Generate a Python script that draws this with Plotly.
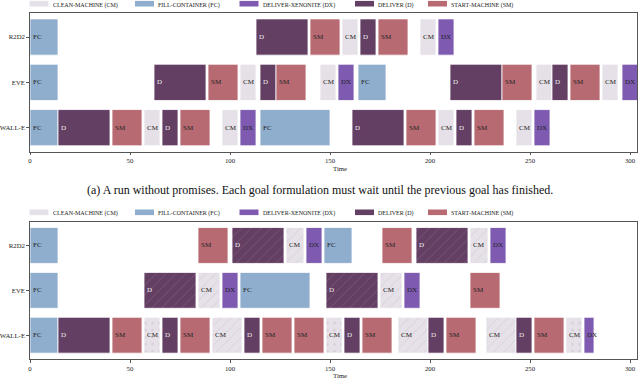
import plotly.graph_objects as go

# task types: abbreviation, legend name
task_abbr = ['CM', 'FC', 'DX', 'D', 'SM']
task_names = ['Clean-Machine (CM)', 'Fill-Container (FC)', 'Deliver-Xenonite (DX)',
              'Deliver (D)', 'Start-Machine (SM)']
robots = ['WALL-E', 'EVE', 'R2D2']

# (a) run without promises
a_robot = (['R2D2'] * 8 + ['EVE'] * 16 + ['WALL-E'] * 16)
a_task = ['FC', 'D', 'SM', 'CM', 'D', 'SM', 'CM', 'DX',
          'FC', 'D', 'SM', 'CM', 'D', 'SM', 'CM', 'DX', 'FC', 'D', 'SM', 'CM', 'D', 'SM', 'CM', 'DX',
          'FC', 'D', 'SM', 'CM', 'D', 'SM', 'CM', 'DX', 'FC', 'D', 'SM', 'CM', 'D', 'SM', 'CM', 'DX']
a_start = [0, 113, 140, 156, 165, 174, 195, 204,
           0, 62, 89, 105, 115, 123, 145, 154, 164, 210, 236, 253, 261, 270, 286, 296,
           0, 14, 41, 57, 66, 75, 96, 105, 115, 161, 188, 204, 213, 222, 243, 252]
a_end = [14, 139, 155, 164, 173, 189, 203, 212,
         14, 88, 104, 113, 123, 138, 153, 162, 178, 236, 251, 261, 269, 285, 294, 304,
         14, 40, 56, 65, 74, 90, 104, 113, 150, 187, 203, 212, 221, 237, 251, 260]
a_mark = [''] * len(a_task)

# (b) run with promises; '/' = promised goal, '.' = dotted
b_robot = (['R2D2'] * 10 + ['EVE'] * 9 + ['WALL-E'] * 21)
b_task = ['FC', 'SM', 'D', 'CM', 'DX', 'FC', 'SM', 'D', 'CM', 'DX',
          'FC', 'D', 'CM', 'DX', 'FC', 'D', 'CM', 'DX', 'SM',
          'FC', 'D', 'SM', 'CM', 'D', 'SM', 'CM', 'D', 'SM', 'SM', 'CM', 'D', 'SM', 'CM', 'D', 'SM',
          'CM', 'D', 'SM', 'CM', 'DX']
b_start = [0, 84, 101, 128, 138, 147, 176, 193, 220, 230,
           0, 57, 84, 96, 105, 148, 175, 187, 220,
           0, 14, 41, 57, 66, 75, 91, 107, 116, 132, 148, 157, 166, 184, 199, 208,
           228, 243, 252, 268, 277]
b_end = [14, 99, 127, 137, 146, 161, 191, 219, 229, 238,
         14, 83, 95, 104, 140, 174, 186, 195, 235,
         14, 40, 56, 65, 74, 90, 106, 115, 131, 147, 156, 165, 181, 199, 207, 223,
         243, 251, 267, 276, 282]
b_mark = ['', '', '/', '/', '', '', '', '/', '/', '',
          '', '/', '/', '', '', '/', '/', '', '',
          '', '', '', '.', '', '', '/', '', '', '', '.', '', '', '/', '', '',
          '/', '', '', '.', '']

caption = '(a) A run without promises. Each goal formulation must wait until the previous goal has finished.'

colors = {'CM': '#e6e1e8', 'FC': '#8fadcc', 'DX': '#7e5bb1', 'D': '#633f63', 'SM': '#b86a72'}
hatch = {'CM': '#c9c0cc', 'FC': '#ffffff', 'DX': '#ffffff', 'D': '#8a6a8a', 'SM': '#ffffff'}
text_col = {'CM': '#222', 'FC': '#222', 'DX': '#222', 'D': '#f0f0f0', 'SM': '#222'}
SERIF = 'Liberation Serif'

W, H = 640.0, 378.0
ML, MR = 30, 3
PW = W - ML - MR

fig = go.Figure()


def add_chart(robot, task, start, end, mark, xa, ya):
    for abbr, name in zip(task_abbr, task_names):
        idx = [i for i, t in enumerate(task) if t == abbr]
        fig.add_trace(go.Bar(
            y=[robot[i] for i in idx],
            x=[end[i] - start[i] for i in idx],
            base=[start[i] for i in idx],
            orientation='h',
            name=name,
            text=[abbr] * len(idx),
            textposition='inside',
            insidetextanchor='start',
            textangle=0,
            textfont=dict(family=SERIF, size=7, color=text_col[abbr]),
            marker=dict(color=colors[abbr],
                        line=dict(color='white', width=0.8),
                        pattern=dict(shape=[mark[i] for i in idx], fillmode='overlay',
                                     fgcolor=hatch[abbr], fgopacity=0.6, size=7, solidity=0.12)),
            width=0.8,
            xaxis=xa, yaxis=ya,
            showlegend=False,
            hoverinfo='skip',
        ))


add_chart(a_robot, a_task, a_start, a_end, a_mark, 'x', 'y')
add_chart(b_robot, b_task, b_start, b_end, b_mark, 'x2', 'y2')

# hand-made legends (wide swatches like the original)
shapes, annots = [], []
swatch_px = [29.5, 135, 239.5, 355, 428]
for leg_y in [3.7, 212.3]:
    for abbr, name, px in zip(task_abbr, task_names, swatch_px):
        shapes.append(dict(type='rect', xref='paper', yref='paper', layer='above',
                           x0=(px - ML) / PW, x1=(px + 19 - ML) / PW,
                           y0=(H - leg_y - 2.8) / H, y1=(H - leg_y + 2.8) / H,
                           fillcolor=colors[abbr], line=dict(width=0)))
        annots.append(dict(text=name, xref='paper', yref='paper',
                           x=(px + 21 - ML) / PW, y=(H - leg_y) / H,
                           xanchor='left', yanchor='middle', showarrow=False,
                           font=dict(family=SERIF, size=8.8, color='#222',
                                     variant='all-small-caps')))

axis_font = dict(family=SERIF, size=6.8, color='#222')

# axis titles
for ty in [168, 375.5]:
    annots.append(dict(text='Time', xref='paper', yref='paper', x=0.51, y=(H - ty) / H,
                       xanchor='center', yanchor='middle', showarrow=False, font=axis_font))

annots.append(dict(text=caption, xref='paper', yref='paper', x=(320 - ML) / PW, y=(H - 190) / H,
                   xanchor='center', yanchor='middle', showarrow=False,
                   font=dict(family=SERIF, size=12, color='#111')))

xcommon = dict(range=[0, PW / 2.0], showgrid=False, zeroline=False, showline=True, mirror=True,
               linecolor='#555', linewidth=1.2, ticks='outside', ticklen=2.5, tickcolor='#555',
               tickvals=[0, 50, 100, 150, 200, 250, 300], tickfont=axis_font, automargin=False)
ycommon = dict(range=[-0.53, 2.53], categoryorder='array', categoryarray=robots,
               showgrid=False, zeroline=False, showline=True, mirror=True,
               linecolor='#555', linewidth=1.2, ticks='outside', ticklen=2.5, tickcolor='#555',
               tickfont=axis_font, automargin=False)

fig.update_layout(
    width=640, height=378,
    margin=dict(l=ML, r=MR, t=0, b=0),
    plot_bgcolor='white', paper_bgcolor='white',
    barmode='overlay',
    showlegend=False,
    uniformtext=dict(minsize=7, mode='show'),
    xaxis=dict(xcommon, domain=[0, 1], anchor='y'),
    yaxis=dict(ycommon, domain=[(H - 151.7) / H, (H - 13) / H], anchor='x'),
    xaxis2=dict(xcommon, domain=[0, 1], anchor='y2'),
    yaxis2=dict(ycommon, domain=[(H - 359) / H, (H - 221.7) / H], anchor='x2'),
    shapes=shapes,
    annotations=annots,
)

# the page's default body margin would push the 640x378 figure out of the window
fig.write_html("out.html", config={'displayModeBar': False},
               post_script="document.body.style.margin='0px';")
